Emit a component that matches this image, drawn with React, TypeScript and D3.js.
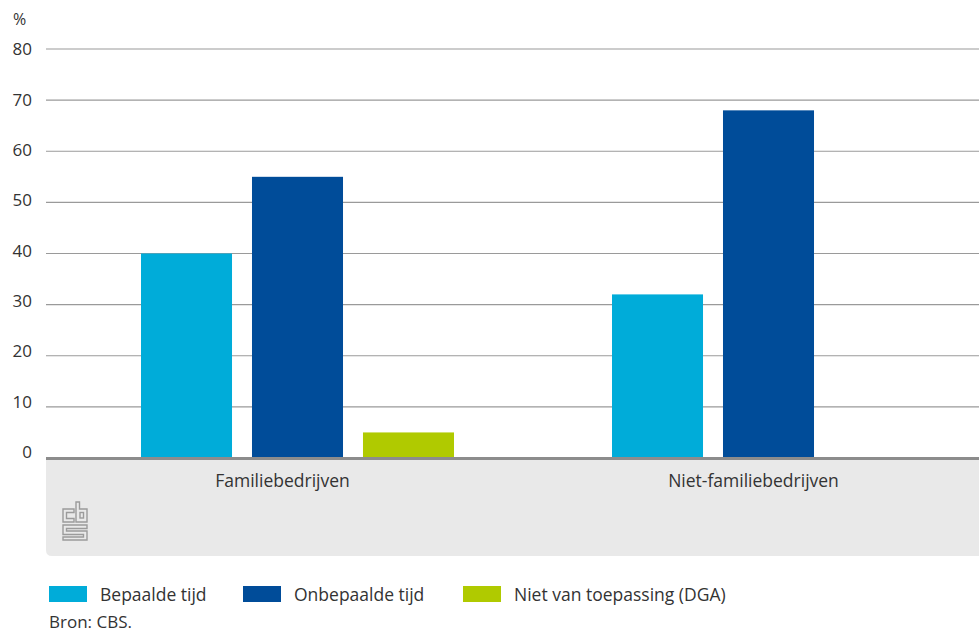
import React from "react";
import * as d3 from "d3";

const categories = ["Familiebedrijven", "Niet-familiebedrijven"];
const seriesNames = ["Bepaalde tijd", "Onbepaalde tijd", "Niet van toepassing (DGA)"];
const bepaaldeTijd = [40, 32];
const onbepaaldeTijd = [55, 68];
const nietVanToepassing: (number | null)[] = [5, null];
const yTicks = [0, 10, 20, 30, 40, 50, 60, 70, 80];
const colors = ["#00acd9", "#004c99", "#b0ca00"];
const source = "Bron: CBS.";

const W = 979;
const H = 629;
const FONT = "'Open Sans', 'Noto Sans', sans-serif";

export default function App() {
  const values = [bepaaldeTijd, onbepaaldeTijd, nietVanToepassing];
  const left = 46;
  const y = d3.scaleLinear().domain([0, 80]).range([458, 49]);
  const yLabel = d3.scaleLinear().domain([0, 80]).range([452, 49.5]);
  const x0 = d3.scaleBand<string>().domain(categories).range([47, 989]);
  const x1 = d3.scaleBand<string>().domain(seriesNames).range([94, 407]).paddingInner(0.18);

  const legendX = [49, 243, 463];

  const grayPath = `M${left},460 H${W} V556 H${left + 6} Q${left},556 ${left},550 Z`;

  return (
    <div style={{ position: "absolute", left: 0, top: 0 }}>
      <svg width={W} height={H} style={{ display: "block", fontFamily: FONT }}>
        <rect x={0} y={0} width={W} height={H} fill="#ffffff" />
        <text x={13} y={25} fontSize={16} fill="#333">%</text>
        {yTicks.map((t) => (
          <g key={t}>
            {t !== 0 && (
              <line x1={left} x2={W} y1={y(t)} y2={y(t)} stroke="#9a9a9a" strokeWidth={1.2} />
            )}
            <text
              x={32}
              y={yLabel(t)}
              dy="0.35em"
              textAnchor="end"
              fontSize={17}
              fill="#333"
            >
              {t}
            </text>
          </g>
        ))}
        {categories.map((c, ci) => (
          <g key={c} transform={`translate(${x0(c)},0)`}>
            {seriesNames.map((s, si) => {
              const v = values[si][ci];
              if (v == null) return null;
              return (
                <rect
                  key={s}
                  x={x1(s)}
                  y={y(v)}
                  width={x1.bandwidth()}
                  height={y(0) - y(v)}
                  fill={colors[si]}
                />
              );
            })}
          </g>
        ))}
        <path d={grayPath} fill="#e9e9e9" />
        <line x1={left} x2={W} y1={458.5} y2={458.5} stroke="#8c8c8c" strokeWidth={3} />
        {categories.map((c) => (
          <text
            key={c}
            x={(x0(c) as number) + x0.bandwidth() / 2}
            y={487}
            textAnchor="middle"
            fontSize={17.5}
            fill="#333"
          >
            {c}
          </text>
        ))}
        <g fill="none" stroke="#9b9b9b" strokeWidth={1.4}>
          <path d="M74,509 H63 V522 H74 V518.5 H66.5 V512.5 H74 Z" />
          <path d="M76,502 H79.5 V509 H87 V522 H76 Z" />
          <rect x={80} y={512.5} width={3.5} height={5.5} />
          <path d="M87,525 H63 V534.5 H83.5 V537 H63 V540 H87 V531 H66.5 V528.5 H87 Z" />
        </g>
        {seriesNames.map((s, i) => (
          <g key={s}>
            <rect x={legendX[i]} y={586} width={38} height={16} fill={colors[i]} />
            <text x={legendX[i] + 51} y={600.5} fontSize={17.5} fill="#333">
              {s}
            </text>
          </g>
        ))}
        <text x={49} y={627.5} fontSize={17} fill="#333">{source}</text>
      </svg>
    </div>
  );
}
